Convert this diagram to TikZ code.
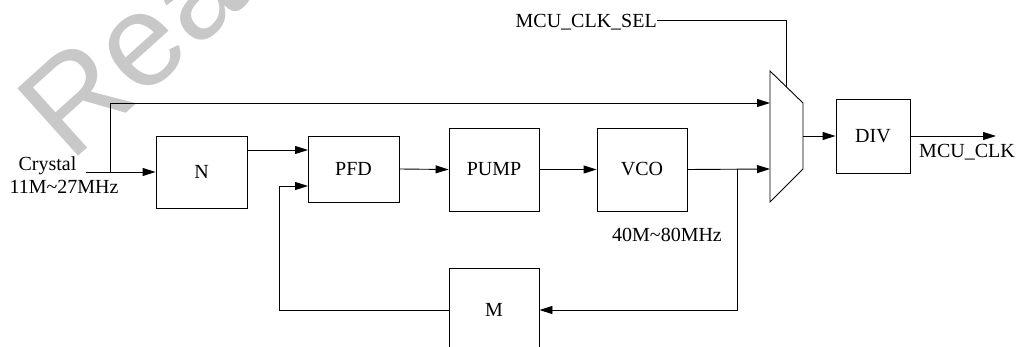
\documentclass[tikz,border=0pt]{standalone}
\usepackage{fontspec}
\setmainfont{Liberation Serif}
\newfontfamily\wmfont{Liberation Sans}
\usetikzlibrary{arrows.meta}
\definecolor{wm}{RGB}{200,200,200}
\begin{document}
\begin{tikzpicture}[x=1pt,y=-1pt,
  blk/.style={draw, line width=0.9pt, inner sep=0pt, font=\fontsize{20}{24}\selectfont},
  lbl/.style={inner sep=0pt, font=\fontsize{20}{24}\selectfont},
  wire/.style={line width=0.9pt},
  arr/.style={wire,-{Triangle[length=13pt,width=8pt]}}]
\useasboundingbox (0,0) rectangle (1019,347);
% watermark
\node[rotate=42, anchor=base west, text=wm, inner sep=0pt,
      font=\wmfont\fontsize{132}{134}\selectfont] (wm) at (70,164) {Rea};
% blocks
\node[blk, minimum width=91pt, minimum height=72pt] (N)    at (201.5,172) {N};
\node[blk, minimum width=91pt, minimum height=66pt] (PFD)  at (353.5,169) {PFD};
\node[blk, minimum width=90pt, minimum height=83pt] (PUMP) at (494,169.5) {PUMP};
\node[blk, minimum width=90pt, minimum height=83pt] (VCO)  at (642,169.5) {VCO};
\node[blk, minimum width=90pt, minimum height=84pt] (M)    at (494,310) {M};
\node[blk, minimum width=74pt, minimum height=74pt] (DIV)  at (873,136) {DIV};
% mux
\coordinate (mtl) at (770,71);
\coordinate (mtr) at (803,103);
\coordinate (mbr) at (803,169);
\coordinate (mbl) at (770,202);
\draw[wire] (mtl) -- (mtr) -- (mbr) -- (mbl) -- cycle;
\coordinate (min1) at (770,103);
\coordinate (min2) at (770,169);
\coordinate (mout) at (803,136);
\coordinate (msel) at (786,87);
% labels
\node[lbl, anchor=base] (crys) at (47.5,171) {Crystal};
\node[lbl, anchor=base] (crysf) at (64,194) {11M\textasciitilde 27MHz};
\node[lbl, anchor=base east] (sel) at (657,28) {MCU\_CLK\_SEL};
\node[lbl, anchor=base] (vcof) at (667,242) {40M\textasciitilde 80MHz};
\node[lbl, anchor=base] (clk) at (967,158) {MCU\_CLK};
% wires
\coordinate (cin) at (86,172);
\coordinate (cbr) at (110,172);
\coordinate (pfd1) at (308,150);
\coordinate (pfd2) at (308,186);
\coordinate (vbr) at (737,169);
\coordinate (fbl) at (279,310);
\coordinate (selc) at (786,20);
\coordinate (outend) at (996,136);
\draw[arr] (cin) -- (N.west);
\draw[arr] (cbr) |- (min1);
\draw[arr] (N.east |- pfd1) -- (pfd1);
\draw[arr] (PFD.east) -- (PUMP.west);
\draw[arr] (PUMP.west -| PUMP.east) -- (VCO.west);
\draw[arr] (VCO.east) -- (min2);
\draw[arr] (vbr) |- (M.east);
\draw[arr] (M.west) -- (fbl) |- (pfd2);
\draw[wire] (sel.east |- selc) -- (selc) -- (msel);
\draw[arr] (mout) -- (DIV.west);
\draw[arr] (DIV.east) -- (outend);
\end{tikzpicture}
\end{document}
